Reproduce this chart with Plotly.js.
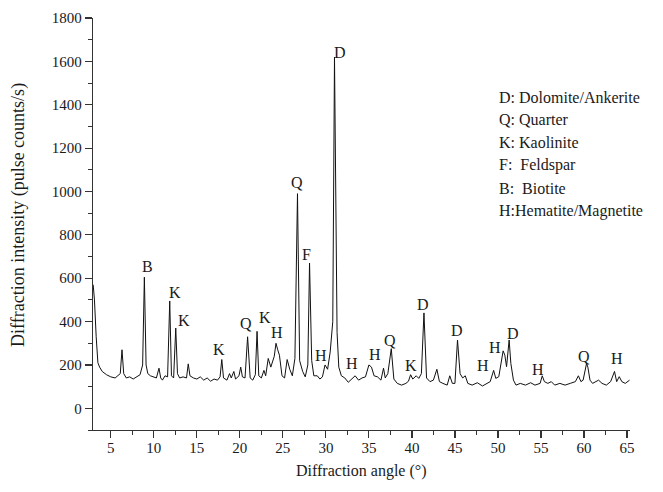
<!DOCTYPE html>
<html>
<head>
<meta charset="utf-8">
<script src="https://cdn.plot.ly/plotly-3.0.1.min.js"></script>
<style>html,body{margin:0;padding:0;background:#fff;}#chart{width:663px;height:492px;}</style>
</head>
<body>
<div id="chart"></div>
<script>
// Diffraction pattern (angle in degrees, intensity in pulse counts/s)
const angle = [2.95,3.1,3.3,3.5,3.7,4.0,4.5,5.0,5.5,5.8,6.1,6.3,6.5,6.8,7.2,7.6,8.0,8.4,8.7,8.9,9.1,9.3,9.6,10.0,10.3,10.6,10.8,11.0,11.3,11.6,11.85,12.05,12.3,12.55,12.75,13.0,13.4,13.8,14.0,14.2,14.6,15.0,15.4,15.8,16.2,16.6,17.0,17.4,17.7,17.9,18.1,18.5,18.8,19.0,19.3,19.5,19.9,20.1,20.3,20.6,20.9,21.2,21.5,21.8,22.0,22.2,22.5,22.8,23.0,23.3,23.6,24.0,24.2,24.4,24.6,24.9,25.2,25.5,25.8,26.1,26.4,26.7,26.95,27.3,27.6,27.9,28.1,28.35,28.6,29.0,29.3,29.6,29.9,30.2,30.5,30.8,31.0,31.3,31.5,31.8,32.2,32.6,33.0,33.4,33.8,34.2,34.6,35.0,35.3,35.6,36.0,36.4,36.7,36.9,37.2,37.6,37.9,38.3,38.8,39.3,39.6,39.85,40.1,40.5,40.8,41.1,41.4,41.7,42.1,42.5,42.9,43.2,43.6,44.1,44.4,44.7,45.0,45.3,45.6,45.9,46.2,46.5,47.0,47.6,48.2,48.7,49.1,49.5,49.75,50.1,50.35,50.6,50.8,51.0,51.3,51.5,51.8,52.1,52.6,53.2,53.8,54.3,54.9,55.15,55.4,55.8,56.2,56.6,57.2,57.8,58.4,59.0,59.35,59.65,59.9,60.3,60.45,60.7,61.0,61.3,61.7,62.1,62.6,63.1,63.55,63.8,64.1,64.4,64.8,65.3];
const intensity = [570,500,330,210,190,170,155,145,140,150,160,270,160,140,145,135,145,155,200,605,200,160,150,145,140,185,140,130,150,145,495,150,140,370,160,140,145,140,205,150,140,135,145,130,140,125,135,130,145,225,140,130,160,140,170,135,150,190,145,140,330,140,130,155,355,150,140,175,150,230,190,240,300,270,245,150,140,225,180,150,230,990,220,170,145,200,670,220,150,150,135,145,200,180,260,400,1620,350,190,150,140,120,135,150,130,140,145,200,190,150,145,130,185,140,160,275,135,115,107,115,125,155,135,150,138,160,440,140,123,130,180,123,115,107,150,115,115,315,160,140,150,115,107,118,103,115,123,175,138,146,215,265,245,192,315,207,130,107,115,107,118,107,115,150,123,115,123,107,115,107,115,123,150,123,130,207,190,130,115,123,130,115,107,123,170,123,146,123,115,130];

// Peak phase labels
const peakText = ['B','K','K','K','Q','K','H','Q','F','H','D','H','H','Q','K','D','D','H','H','D','H','Q','H'];
const peakAngle = [9.3,12.45,13.5,17.6,20.75,22.9,24.35,26.7,27.75,29.45,31.6,33.0,35.7,37.4,39.9,41.3,45.2,48.3,49.6,51.7,54.6,60.0,63.85];
const peakIntensity = [655,535,405,272,390,420,350,1040,710,245,1640,205,250,315,198,480,358,198,280,345,180,240,230];

// Phase legend lines
const legendLines = ['D: Dolomite/Ankerite','Q: Quarter','K: Kaolinite','F:\u00a0 Feldspar','B:\u00a0 Biotite','H:Hematite/Magnetite'];

const serif = 'Liberation Serif, Times New Roman, serif';
const ink = '#1a1a1a';

const annotations = [];
for (let i = 0; i < peakText.length; i++) {
  annotations.push({x: peakAngle[i], y: peakIntensity[i], xref: 'x', yref: 'y', text: peakText[i],
    showarrow: false, xanchor: 'center', yanchor: 'middle', font: {family: serif, size: 16, color: ink}});
}
const plotL = 93, plotW = 537, plotT = 18, plotH = 412;
const legTop = 97, legStep = 22.8, legLeft = 497;
for (let i = 0; i < legendLines.length; i++) {
  annotations.push({x: (legLeft - plotL) / plotW, y: (plotT + plotH - (legTop + i * legStep)) / plotH,
    xref: 'paper', yref: 'paper', text: legendLines[i], showarrow: false, xanchor: 'left', yanchor: 'middle',
    font: {family: serif, size: 16, color: ink}});
}
annotations.push({x: (18 - plotL) / plotW, y: (plotT + plotH - 215) / plotH, xref: 'paper', yref: 'paper',
  text: 'Diffraction intensity (pulse counts/s)', textangle: -90, showarrow: false, xanchor: 'center', yanchor: 'middle',
  font: {family: serif, size: 18, color: ink}});
annotations.push({x: (361 - plotL) / plotW, y: (plotT + plotH - 471) / plotH, xref: 'paper', yref: 'paper',
  text: 'Diffraction angle (°)', showarrow: false, xanchor: 'center', yanchor: 'middle',
  font: {family: serif, size: 16, color: ink}});

const trace = {x: angle, y: intensity, type: 'scatter', mode: 'lines',
  line: {color: '#111', width: 1}, hoverinfo: 'skip'};

const axisCommon = {showgrid: false, zeroline: false, showline: true, linecolor: '#333', linewidth: 1.3,
  ticks: 'outside', tickcolor: '#333', tickwidth: 1.2, ticklen: 7,
  tickfont: {family: serif, size: 15, color: ink}};

const layout = {
  width: 663, height: 492,
  margin: {l: plotL, r: 663 - plotL - plotW, t: plotT, b: 492 - plotT - plotH, pad: 0},
  paper_bgcolor: '#fff', plot_bgcolor: '#fff', showlegend: false,
  xaxis: Object.assign({}, axisCommon, {range: [2.93, 65.35], tick0: 0, dtick: 5, ticklabelstandoff: -3,
    minor: {ticks: 'outside', ticklen: 4, tickwidth: 1, tickcolor: '#333', tick0: 0, dtick: 2.5}}),
  yaxis: Object.assign({}, axisCommon, {range: [-100, 1800], tick0: 0, dtick: 200,
    minor: {ticks: 'outside', ticklen: 4, tickwidth: 1, tickcolor: '#333', tick0: 0, dtick: 100}}),
  annotations: annotations
};

Plotly.newPlot('chart', [trace], layout, {staticPlot: true, displayModeBar: false});
</script>
</body>
</html>
